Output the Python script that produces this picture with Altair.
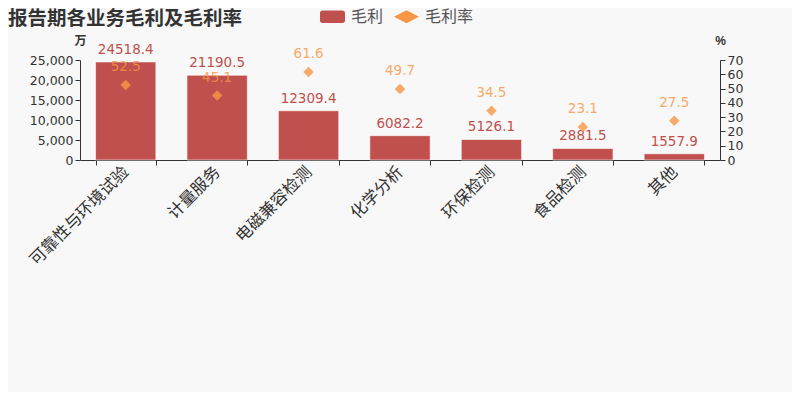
import altair as alt
import pandas as pd

categories = ["可靠性与环境试验", "计量服务", "电磁兼容检测", "化学分析", "环保检测", "食品检测", "其他"]
profit = [24518.4, 21190.5, 12309.4, 6082.2, 5126.1, 2881.5, 1557.9]
margin = [52.5, 45.1, 61.6, 49.7, 34.5, 23.1, 27.5]
series = ["毛利", "毛利率"]
left_ticks = [0, 5000, 10000, 15000, 20000, 25000]
right_ticks = [0, 10, 20, 30, 40, 50, 60, 70]

RED = "#c0504d"
ORANGE = "#f79646"
TXT = "#333333"
NUM_FONT = "DejaVu Sans"
CJK_FONT = "Noto Sans CJK SC"

df = pd.DataFrame({"cat": categories, "profit": profit, "margin": margin})
legend_df = pd.DataFrame({"s": series})

rect_path = ("M-0.8,-0.5H0.8A0.2,0.2 0 0 1 1,-0.3V0.3A0.2,0.2 0 0 1 0.8,0.5"
             "H-0.8A0.2,0.2 0 0 1 -1,0.3V-0.3A0.2,0.2 0 0 1 -0.8,-0.5Z")
dia_path = "M-1,0L0,-0.52L1,0L0,0.52Z"

x = alt.X(
    "cat:N", sort=categories,
    scale=alt.Scale(paddingInner=0.34, paddingOuter=0.17),
    axis=alt.Axis(title=None, labelAngle=-45, tickBand="extent", labelFontSize=16.5,
                  labelFont=CJK_FONT, labelColor=TXT, domainColor=TXT, tickColor=TXT,
                  tickSize=5, labelPadding=4, labelBaseline="middle", labelAlign="right"),
)

y1 = alt.Y(
    "profit:Q", scale=alt.Scale(domain=[0, 25000]),
    axis=alt.Axis(title="万", titleAngle=0, titleX=0, titleY=-20, titleFontSize=12,
                  titleFont=CJK_FONT, titleFontWeight="bold", titleColor=TXT,
                  titleAlign="center", titleBaseline="middle",
                  format=",d", values=left_ticks, grid=False, orient="left",
                  labelFontSize=12.5, labelFont=NUM_FONT, labelColor=TXT,
                  domainColor=TXT, tickColor=TXT, tickSize=5),
)
y2 = alt.Y(
    "margin:Q", scale=alt.Scale(domain=[0, 70]),
    axis=alt.Axis(title="%", titleAngle=0, titleX=0, titleY=-20, titleFontSize=12,
                  titleFontWeight="bold", titleColor=TXT,
                  titleAlign="center", titleBaseline="middle",
                  values=right_ticks, grid=False, orient="right",
                  labelFontSize=12.5, labelFont=NUM_FONT, labelColor=TXT,
                  domainColor=TXT, tickColor=TXT, tickSize=5),
)

base = alt.Chart(df)

bars = base.mark_bar(color=RED, stroke="#ffffff", strokeOpacity=0.6, strokeWidth=1).encode(x=x, y=y1)
bar_text = base.mark_text(dy=-12, fontSize=13.5, font=NUM_FONT, color=RED, baseline="middle").encode(
    x=x, y=y1, text=alt.Text("profit:Q", format=".1f"))
left = alt.layer(bars, bar_text)

pts = base.mark_point(shape="diamond", filled=True, size=110, color=ORANGE, opacity=0.8).encode(x=x, y=y2)
pt_text = base.mark_text(dy=-18, fontSize=13.5, font=NUM_FONT, color=ORANGE, opacity=0.8,
                         baseline="middle").encode(x=x, y=y2, text=alt.Text("margin:Q", format=".1f"))
right = alt.layer(pts, pt_text)

legend_layer = alt.Chart(legend_df).mark_point(filled=True, opacity=1).encode(
    color=alt.Color("s:N", scale=alt.Scale(domain=series, range=[RED, ORANGE]),
                    legend=alt.Legend(title=None, orient="none", legendX=240, legendY=-56,
                                      direction="horizontal", symbolSize=625,
                                      labelFontSize=16, labelFont=CJK_FONT, labelColor="#555555",
                                      labelOffset=6, columnPadding=10, symbolStrokeWidth=0)),
    shape=alt.Shape("s:N", scale=alt.Scale(domain=series, range=[rect_path, dia_path])),
).transform_filter("false")

chart = alt.layer(left, right, legend_layer).resolve_scale(y="independent").properties(
    width=640, height=100,
    autosize=alt.AutoSizeParams(type="none"),
    padding={"left": 72, "top": 52, "right": 72, "bottom": 232},
    background="#f8f8f8",
    title=alt.Title("报告期各业务毛利及毛利率", anchor="start", fontSize=19.5, fontWeight="bold",
                    font=CJK_FONT, color=TXT, dx=-72, dy=38, baseline="middle", frame="group"),
).configure_view(stroke=None)

chart.save("out.html", embed_options={"renderer": "svg", "actions": False})
